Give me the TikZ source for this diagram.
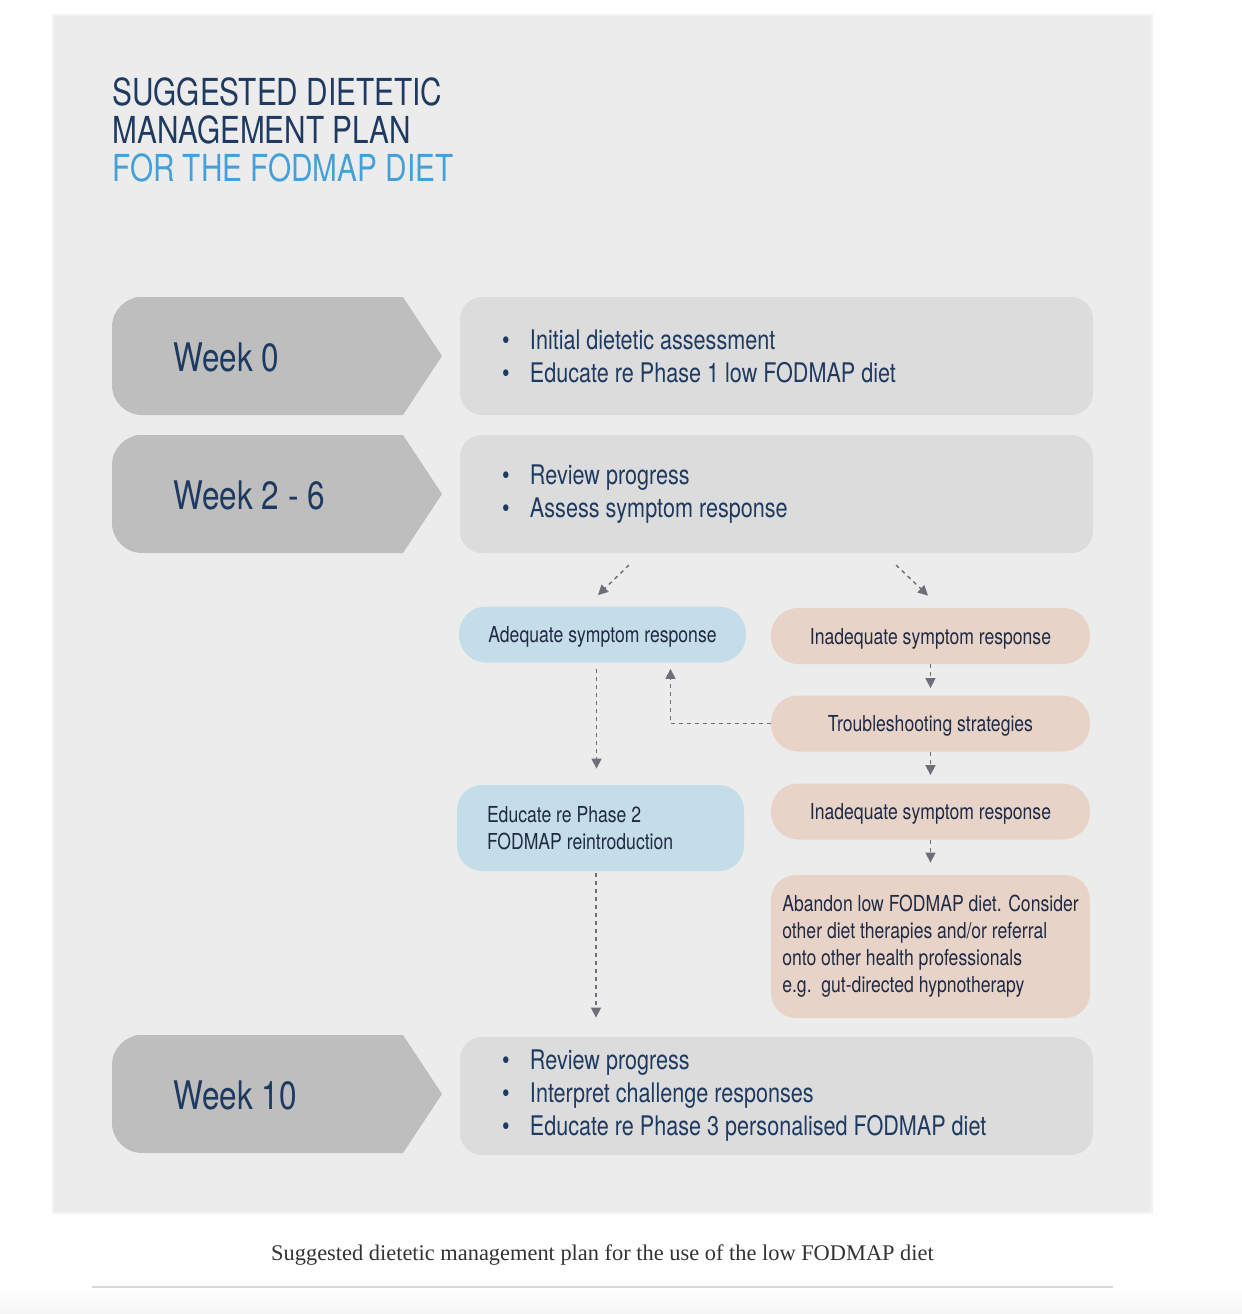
\documentclass[tikz,border=0pt]{standalone}
\usepackage{fontspec}
\setmainfont[FakeStretch=0.8]{TeX Gyre Heros}
\newfontfamily\captionfont{Liberation Serif}
\usetikzlibrary{arrows.meta}

\definecolor{panel}{HTML}{ECECEC}
\definecolor{panelrim}{HTML}{F3F3F3}
\definecolor{weekgrey}{HTML}{BEBEBE}
\definecolor{plangrey}{HTML}{DCDCDC}
\definecolor{navy}{HTML}{1F3A60}
\definecolor{titleblue}{HTML}{45A0DA}
\definecolor{goodblue}{HTML}{C4DDE8}
\definecolor{badpeach}{HTML}{E8D3C8}
\definecolor{flowgrey}{HTML}{6E6E78}
\definecolor{inktext}{HTML}{1F2A44}
\definecolor{rulegrey}{HTML}{D8D8D8}

\newcommand\planitem[1]{\makebox[14pt][l]{\textbullet}#1}

\tikzset{
	weeklabel/.style={anchor=west, inner sep=0pt, text=navy,
		font=\fontsize{19.7}{22}\selectfont},
	plan/.style={fill=plangrey, rounded corners=11pt, minimum height=59pt,
		text width=274.5pt, inner xsep=21pt, align=left, text=navy,
		execute at begin node={\spaceskip=0pt\xspaceskip=0pt},
		font=\fontsize{13.5}{16.5}\selectfont},
	pill/.style={minimum width=159.5pt, minimum height=28pt, rounded corners=13.5pt,
		text=inktext, font=\fontsize{11}{13.5}\selectfont},
	oneline/.style={text depth=0pt},
	good/.style={pill, fill=goodblue, minimum width=143.5pt},
	bad/.style={pill, fill=badpeach},
	flow/.style={draw=flowgrey, line width=0.7pt, dash pattern=on 2pt off 2pt,
		-{Triangle[width=5pt,length=5pt]}}
}

\begin{document}
\begin{tikzpicture}[x=0.5pt,y=-0.5pt]
	\useasboundingbox (0,0) rectangle (1242,1314);
	% page and panel
	\fill[white] (0,0) rectangle (1242,1314);
	\filldraw[fill=panel, draw=panelrim, line width=1pt] (53,15) rectangle (1152,1213);

	\node[anchor=north west, inner sep=0pt, align=left, text=navy,
		font=\fontsize{18.6}{19}\selectfont] (title) at (112,77)
		{SUGGESTED DIETETIC\\MANAGEMENT PLAN\\\textcolor{titleblue}{FOR THE FODMAP DIET}};

	% week arrows
	\foreach \yt/\lbl/\nm in {297/Week 0/wka, 435/Week 2 - 6/wkb, 1035/Week 10/wkc}{
		\fill[weekgrey] (403,\yt) -- (442,\yt+59) -- (403,\yt+118) -- (150,\yt+118)
			{[rounded corners=15pt] -- (112,\yt+118) -- (112,\yt) -- (150,\yt)} -- cycle;
		\node[weeklabel] (\nm) at (173,\yt+60) {\lbl};
	}

	% plan boxes
	\node[plan] (pla) at (776.5,356) {\planitem{Initial dietetic assessment}\\
		\planitem{Educate re Phase 1 low FODMAP diet}};
	\node[plan] (plb) at (776.5,494) {\planitem{Review progress}\\
		\planitem{Assess symptom response}};
	\node[plan] (plc) at (776.5,1096) {\planitem{Review progress}\\
		\planitem{Interpret challenge responses}\\
		\planitem{Educate re Phase 3 personalised FODMAP diet}};

	% responses
	\node[good, oneline] (adq) at (602.5,634.5) {Adequate symptom response};
	\node[bad, oneline] (inda) at (930.5,636) {Inadequate symptom response};
	\node[bad, oneline] (trb) at (930.5,723.5) {Troubleshooting strategies};
	\node[bad, oneline] (indb) at (930.5,811.5) {Inadequate symptom response};
	\node[good, minimum height=43pt, rounded corners=12.5pt, text width=113.5pt,
		inner xsep=15pt, align=left, execute at begin node={\spaceskip=0pt\xspaceskip=0pt}]
		(edu) at (600.5,828) {Educate re Phase 2\\FODMAP reintroduction};
	\node[bad, minimum height=71.5pt, rounded corners=12.5pt, align=left]
		(abn) at (930.5,946.5)
		{Abandon low FODMAP diet. Consider\\other diet therapies and/or referral\\
		onto other health professionals\\e.g.\ \ gut-directed hypnotherapy};

	% connectors
	\coordinate (splitl) at (629,565);
	\coordinate (splitr) at (896,565);
	\draw[flow] (splitl) -- ([xshift=-2.25pt,yshift=5.5pt]adq.north);
	\draw[flow] (splitr) -- ([xshift=-1.25pt,yshift=6pt]inda.north);
	\draw[flow, shorten >=3.5pt] (inda.south) -- (trb.north);
	\draw[flow, shorten >=4pt] (trb.south) -- (indb.north);
	\draw[flow, shorten >=6pt] (indb.south) -- (abn.north);
	\draw[flow, shorten >=3pt] (trb.west) -| ([xshift=34pt]adq.south);
	\draw[flow, shorten <=3pt, shorten >=8pt] ([xshift=-3pt]adq.south) -- ([xshift=-3pt]adq.south |- edu.north);
	\draw[flow, shorten <=1pt, shorten >=9.5pt] ([xshift=-2.25pt]edu.south) -- ([xshift=-2.25pt]edu.south |- plc.north);

	% caption
	\node[font=\captionfont\fontsize{11.2}{13}\selectfont, text=black!80] (cap) at (602.5,1255)
		{Suggested dietetic management plan for the use of the low FODMAP diet};
	\draw[rulegrey, line width=0.6pt] (92,1287) -- (1113,1287);
	\fill[top color=white, bottom color=black!4] (0,1288) rectangle (1242,1314);
\end{tikzpicture}
\end{document}
